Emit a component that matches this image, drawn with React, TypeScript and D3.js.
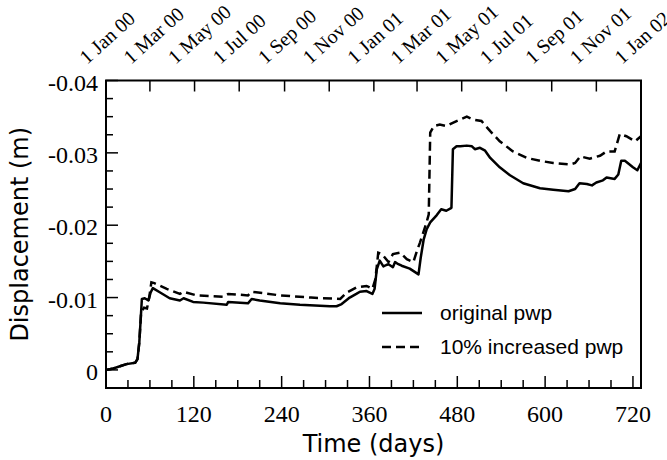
import React from 'react';
import * as d3 from 'd3';

// days since 1 Jan 2000 and displacement (m)
const origDays = [0, 10, 19, 28, 40, 43, 45.5, 47.4, 49, 53, 58, 61, 64, 74, 87, 101, 106, 119, 133, 165, 167, 194, 199, 210, 238, 265, 306, 315, 322, 333, 342, 347, 356, 364, 367, 370, 374, 379, 383, 386, 392, 395, 398, 404, 415, 427, 430, 434, 438, 443, 452, 458, 465, 472, 474, 479, 484, 493, 500, 504, 511, 518, 525, 538, 552, 570, 593, 611, 632, 641, 647, 657, 664, 670, 679, 684, 695, 700, 704, 709, 720, 726, 731];
const origDisp = [0, -0.0002, -0.0005, -0.0008, -0.001, -0.0015, -0.0038, -0.007, -0.0098, -0.0099, -0.0096, -0.0107, -0.0113, -0.0107, -0.0099, -0.0096, -0.0099, -0.0094, -0.0093, -0.009, -0.0094, -0.0092, -0.0098, -0.0096, -0.0092, -0.009, -0.0088, -0.0088, -0.0091, -0.01, -0.0105, -0.0108, -0.0109, -0.0105, -0.0112, -0.0139, -0.0151, -0.0143, -0.0145, -0.0146, -0.0142, -0.0149, -0.0147, -0.0144, -0.014, -0.0132, -0.0155, -0.018, -0.0194, -0.0204, -0.0214, -0.0222, -0.022, -0.0224, -0.0305, -0.0309, -0.0309, -0.031, -0.0309, -0.0305, -0.0307, -0.0303, -0.0293, -0.028, -0.0269, -0.0258, -0.0251, -0.0249, -0.0247, -0.025, -0.0258, -0.0257, -0.0255, -0.0259, -0.0262, -0.0266, -0.0264, -0.027, -0.0289, -0.0289, -0.028, -0.0276, -0.0286];

const incDays = [0, 10, 19, 28, 40, 43, 45.5, 48, 52, 56, 59, 62, 66, 83, 101, 106, 124, 160, 167, 194, 199, 238, 280, 320, 329, 342, 356, 364, 368, 372, 377, 386, 392, 402, 411, 420, 425, 429, 438, 441, 443, 448, 456, 465, 479, 493, 502, 513, 525, 538, 556, 575, 593, 611, 634, 641, 648, 661, 675, 684, 695, 702, 711, 723, 731];
const incDisp = [0, -0.0002, -0.0005, -0.0008, -0.001, -0.0015, -0.0038, -0.008, -0.0086, -0.0085, -0.01, -0.0121, -0.012, -0.0112, -0.0105, -0.0108, -0.0103, -0.0101, -0.0105, -0.0103, -0.0108, -0.0103, -0.01, -0.0098, -0.0107, -0.0114, -0.0116, -0.0112, -0.0125, -0.0162, -0.016, -0.0149, -0.016, -0.0162, -0.0153, -0.0149, -0.0165, -0.0176, -0.0204, -0.0215, -0.0328, -0.0337, -0.0339, -0.0337, -0.0344, -0.035, -0.0346, -0.0344, -0.033, -0.0316, -0.0302, -0.0293, -0.0289, -0.0286, -0.0284, -0.0286, -0.0295, -0.0292, -0.0296, -0.0302, -0.0302, -0.0326, -0.0323, -0.0316, -0.0323];

const xMajor = [0, 120, 240, 360, 480, 600, 720];
const yMajor = [0, -0.01, -0.02, -0.03, -0.04];
const legendLabels = ['original pwp', '10% increased pwp'];

const W = 667;
const H = 460;
const left = 106, right = 641, top = 80.5, bottom = 388;

export default function App() {
  const x = d3.scaleLinear().domain([0, 731]).range([left, right]);
  const y = d3.scaleLinear().domain([0.0025, -0.04]).range([bottom, top]);
  const xDate = d3.scaleUtc()
    .domain([new Date(Date.UTC(2000, 0, 1)), new Date(Date.UTC(2002, 0, 1))])
    .range([left, right]);
  const fmtDate = d3.utcFormat('%-d %b %y');
  const dateTicks = xDate.ticks(d3.utcMonth.every(2));

  const xMinor = d3.range(0, 731, 30);
  const yMinor = d3.range(0, 18).map(i => 0.0025 - i * 0.0025);

  const line = d3.line<[number, number]>()
    .x(d => x(d[0]))
    .y(d => y(d[1]));
  const origPath = line(origDays.map((t, i) => [t, origDisp[i]]));
  const incPath = line(incDays.map((t, i) => [t, incDisp[i]]));

  const serif = 'Liberation Serif, Times New Roman, serif';
  const sans = 'DejaVu Sans, Verdana, sans-serif';

  return (
    <svg width={W} height={H} style={{ position: 'absolute', left: 0, top: 0 }}>
      <rect width={W} height={H} fill="#fff" />

      {/* curves */}
      <path d={origPath || ''} fill="none" stroke="#000" strokeWidth={2.5} strokeLinejoin="round" />
      <path d={incPath || ''} fill="none" stroke="#000" strokeWidth={2.5} strokeDasharray="9,5" />

      {/* bottom ticks */}
      {xMinor.map(t => (
        <line key={'xm' + t} x1={x(t)} x2={x(t)} y1={bottom} y2={bottom - (xMajor.includes(t) ? 12 : 8)} stroke="#000" strokeWidth={1.5} />
      ))}
      {xMajor.map(t => (
        <text key={'xl' + t} x={x(t)} y={422} textAnchor="middle" fontFamily={serif} fontSize={24}>{t}</text>
      ))}

      {/* left ticks */}
      {yMinor.map((v, i) => (
        <line key={'ym' + i} x1={left} x2={left + (i % 4 === 1 ? 12 : 7)} y1={y(v)} y2={y(v)} stroke="#000" strokeWidth={1.5} />
      ))}
      {yMajor.map(v => (
        <text key={'yl' + v} x={98} y={y(v) + 10} textAnchor="end" fontFamily={serif} fontSize={24}>
          {v === 0 ? '0' : v.toFixed(2)}
        </text>
      ))}

      {/* top date axis */}
      {dateTicks.map(d => (
        <g key={d.getTime()}>
          <line x1={xDate(d)} x2={xDate(d)} y1={top} y2={top + 11} stroke="#000" strokeWidth={1.5} />
          <text transform={`translate(${xDate(d) - 19},${65}) rotate(-42)`} fontFamily={serif} fontSize={20}>
            {fmtDate(d)}
          </text>
        </g>
      ))}

      {/* frame */}
      <rect x={left} y={top} width={right - left} height={bottom - top} fill="none" stroke="#000" strokeWidth={2} />

      {/* legend */}
      <line x1={382} x2={422} y1={313} y2={313} stroke="#000" strokeWidth={2.5} />
      <line x1={382} x2={422} y1={347} y2={347} stroke="#000" strokeWidth={2.5} strokeDasharray="9,5" />
      {legendLabels.map((l, i) => (
        <text key={l} x={440} y={313 + i * 34} dy="0.35em" fontFamily="Liberation Sans, Arial, sans-serif" fontSize={21}>{l}</text>
      ))}

      {/* axis titles */}
      <text x={(left + right) / 2} y={452} textAnchor="middle" fontFamily={sans} fontSize={24}>Time (days)</text>
      <text transform={`translate(28,${(top + bottom) / 2}) rotate(-90)`} textAnchor="middle" fontFamily={sans} fontSize={24}>Displacement (m)</text>
    </svg>
  );
}
